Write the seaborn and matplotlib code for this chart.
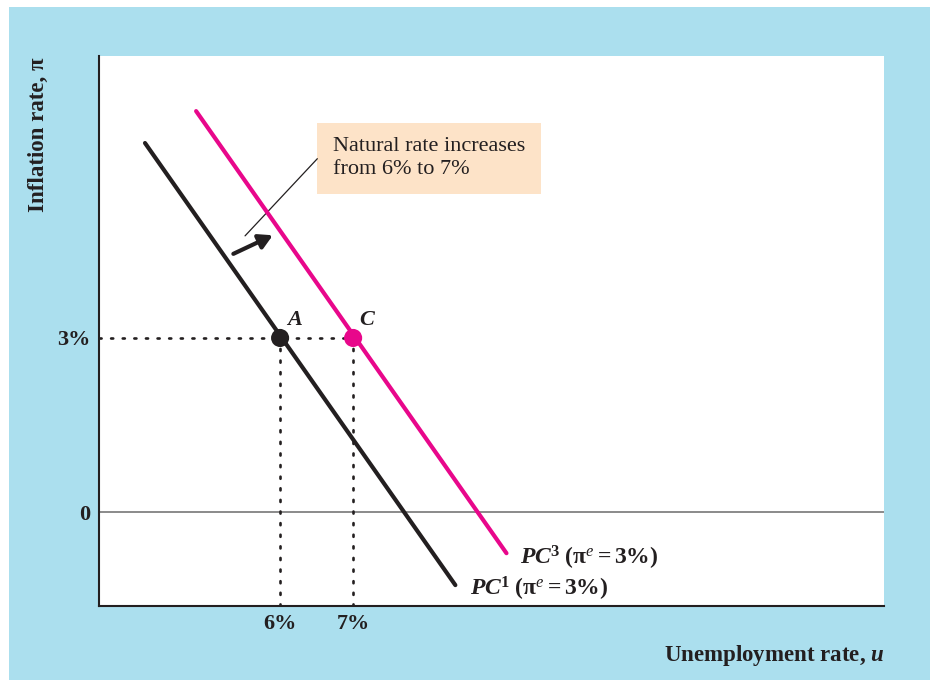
import numpy as np
import matplotlib
matplotlib.use("Agg")
import matplotlib.pyplot as plt
from matplotlib.patches import Rectangle
import pandas as pd
import seaborn as sns

# Phillips curves: unemployment (%) vs inflation (%)
pc1_u = [4.15, 8.40]
pc1_pi = [6.36, -1.26]
pc3_u = [4.85, 9.10]
pc3_pi = [6.91, -0.71]

point_names = ["A", "C"]
point_u = [6, 7]
point_pi = [3, 3]

xticks = [6, 7]
xticklabels = ["6%", "7%"]
yticks = [0, 3]
yticklabels = ["0", "3%"]

blue = "#abdfee"
magenta = "#e8078b"
dark = "#231f20"
peach = "#fde3c8"

sns.set_style("white")
plt.rcParams['font.family'] = ['Liberation Serif', 'DejaVu Serif']
plt.rcParams['mathtext.fontset'] = 'custom'
plt.rcParams['mathtext.rm'] = 'Liberation Serif'
plt.rcParams['mathtext.it'] = 'Liberation Serif:italic'
plt.rcParams['mathtext.bf'] = 'Liberation Serif:bold'
plt.rcParams['mathtext.bfit'] = 'Liberation Serif:italic:bold'

fig = plt.figure(figsize=(9.3, 6.8), dpi=100, facecolor="white")
fig.patches.append(Rectangle((9 / 930, 0), 1, 1 - 7 / 680, transform=fig.transFigure,
                             facecolor=blue, edgecolor="none", zorder=-10))
ax = fig.add_axes([99 / 930, 74 / 680, 785 / 930, 550 / 680])
ax.set_facecolor("white")
ax.set_xlim(3.52, 14.27)
ax.set_ylim(-1.62, 7.86)

# zero line
ax.axhline(0, color="#777777", lw=1.2, zorder=1)

# dotted guides
ax.plot([3.52, point_u[1]], [point_pi[0], point_pi[1]], ls=(0, (0.8, 3.6)), color=dark, lw=1.9,
        dash_capstyle="round", zorder=2)
for u in point_u:
    ax.plot([u, u], [-1.62, 3], ls=(0, (0.8, 3.6)), color=dark, lw=1.9,
            dash_capstyle="round", zorder=2)

df1 = pd.DataFrame({"u": pc1_u, "pi": pc1_pi})
df3 = pd.DataFrame({"u": pc3_u, "pi": pc3_pi})
sns.lineplot(data=df1, x="u", y="pi", color=dark, lw=3, ax=ax, zorder=3)
sns.lineplot(data=df3, x="u", y="pi", color=magenta, lw=3, ax=ax, zorder=3)

pts = pd.DataFrame({"u": point_u, "pi": point_pi, "name": point_names})
sns.scatterplot(data=pts, x="u", y="pi", hue="name", palette=[dark, magenta],
                s=170, edgecolor="none", legend=False, ax=ax, zorder=4)
for name, u, p in zip(point_names, point_u, point_pi):
    ax.text(u + 0.09, p + 0.13, name, fontsize=16, fontweight="bold", style="italic",
            color=dark, ha="left", va="bottom")

# annotation box and arrow
ax.add_patch(Rectangle((6.51, 5.48), 3.06, 1.23, facecolor=peach, edgecolor="none", zorder=2))
ax.text(6.73, 6.47, "Natural rate increases\nfrom 6% to 7%", fontsize=16, color=dark,
        ha="left", va="top", linespacing=1.3, zorder=3)
ax.plot([5.52, 6.51], [4.76, 6.09], color=dark, lw=0.9, zorder=2)
ax.annotate("", xy=(5.90, 4.77), xytext=(5.36, 4.45),
            arrowprops=dict(arrowstyle="-|>,head_length=0.8,head_width=0.45",
                            color=dark, lw=3, shrinkA=0, shrinkB=0), zorder=3)

# curve labels
ax.text(9.28, -0.80, r"$\mathbfit{PC}^{\mathbf{3}}\ \mathbf{(\pi}^{\mathit{e}}\mathbf{=3\%)}$",
        fontsize=17, color=dark, ha="left", va="center")
ax.text(8.60, -1.32, r"$\mathbfit{PC}^{\mathbf{1}}\ \mathbf{(\pi}^{\mathit{e}}\mathbf{=3\%)}$",
        fontsize=17, color=dark, ha="left", va="center")

ax.set_xticks(xticks)
ax.set_xticklabels(xticklabels, fontsize=16, fontweight="bold", color=dark)
ax.set_yticks(yticks)
ax.set_yticklabels(yticklabels, fontsize=16, fontweight="bold", color=dark)
ax.tick_params(length=0, pad=6)
ax.set_xlabel("")
ax.set_ylabel("")

for side in ["top", "right"]:
    ax.spines[side].set_visible(False)
for side in ["left", "bottom"]:
    ax.spines[side].set_color(dark)
    ax.spines[side].set_linewidth(1.5)

fig.text(38 / 930, 1 - 57 / 680, "Inflation rate, π", rotation=90, fontsize=16.5,
         fontweight="bold", color=dark, ha="center", va="top")
fig.text(884 / 930, 1 - 655 / 680, r"Unemployment rate, $\mathbfit{u}$", fontsize=16.5,
         fontweight="bold", color=dark, ha="right", va="center")

fig.savefig("out.png", dpi=100)
